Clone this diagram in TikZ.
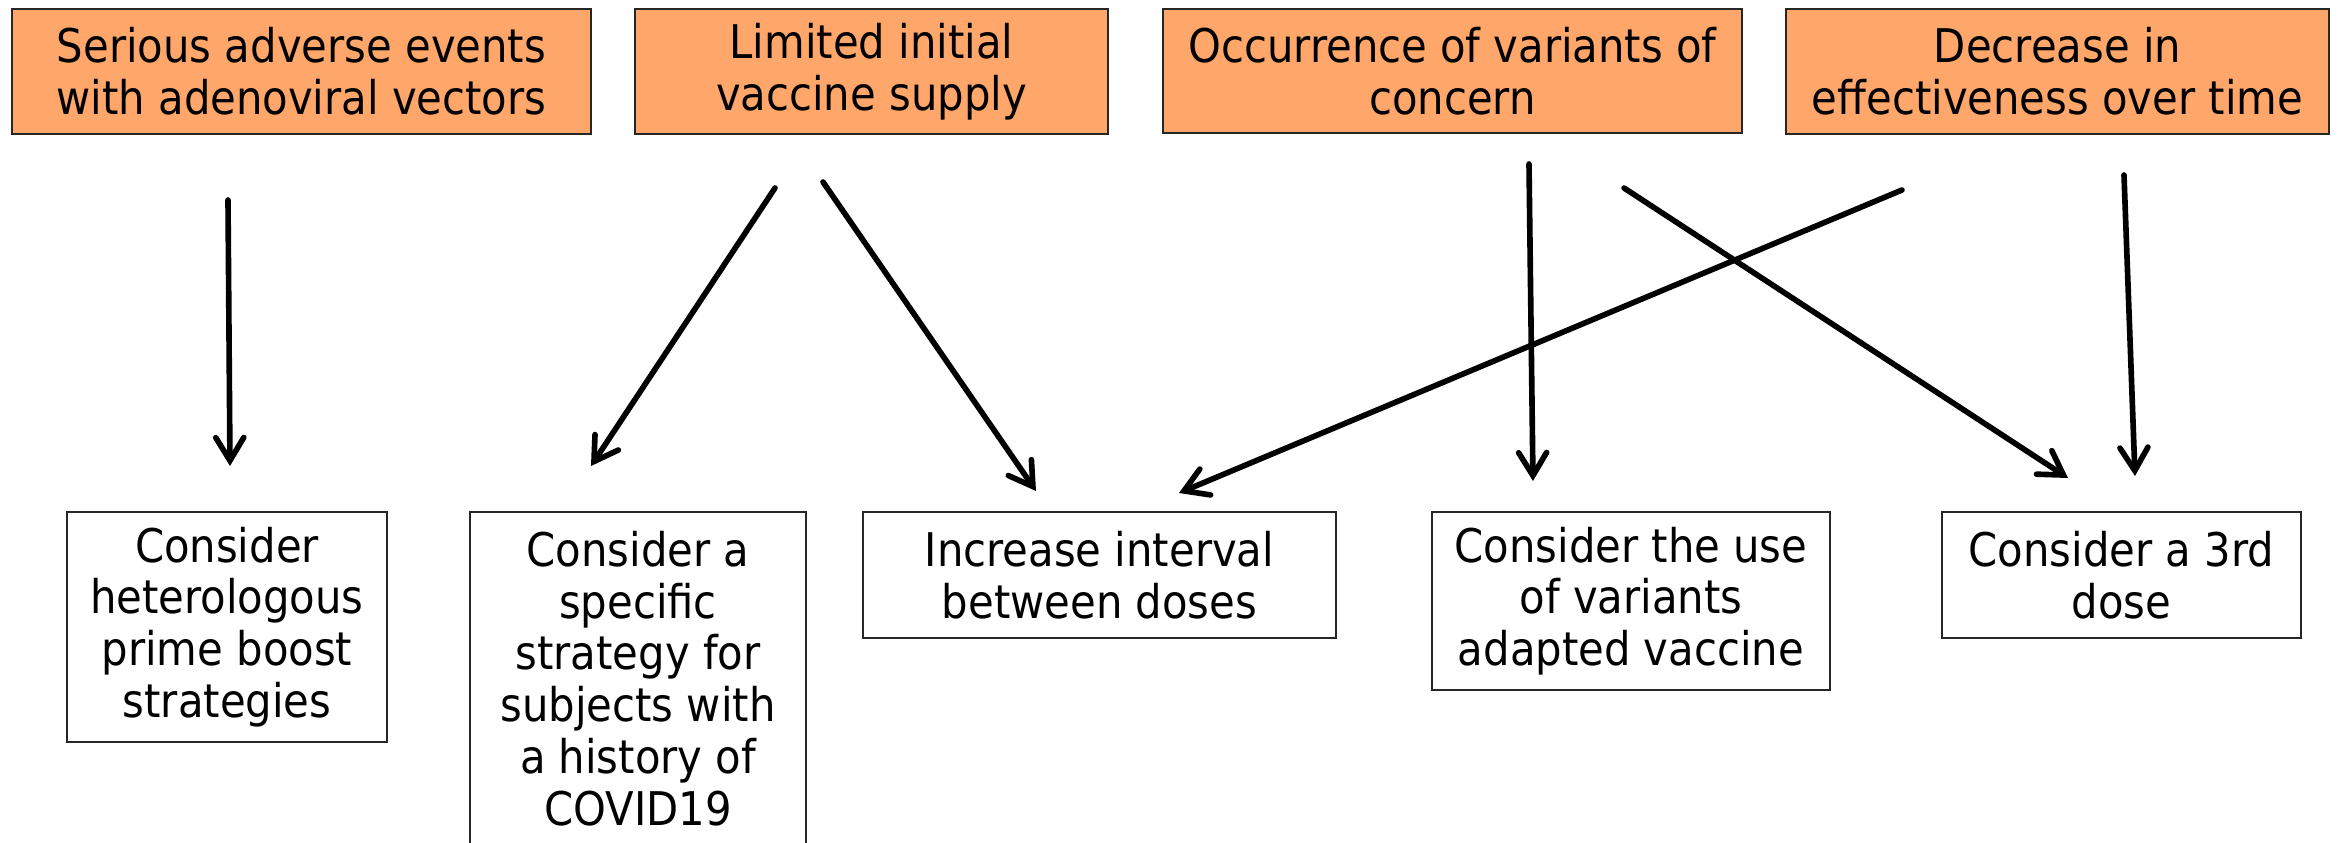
\documentclass[tikz,border=0pt]{standalone}
\usepackage{fontspec}
\setmainfont{DejaVu Sans Condensed}
\usetikzlibrary{
    arrows.meta,
    calc,
    positioning
}
\definecolor{causeorange}{RGB}{255,166,106}
\tikzset{
    every picture/.style = {
        > = {Straight Barb[length=2.3mm, width=2.8mm, line cap=round]}
    },
    cause/.style = {
        draw = black!85,
        line width = 0.6pt,
        fill = causeorange,
        align = center,
        inner sep = 0pt,
        font = \fontsize{13.2}{14.7}\selectfont
    },
    measure/.style = {
        draw = black!85,
        line width = 0.6pt,
        fill = white,
        align = center,
        inner sep = 0pt,
        font = \fontsize{13.2}{14.7}\selectfont
    },
    link/.style = {
        ->,
        line width = 1.6pt,
        line cap = round
    }
}

\begin{document}
\begin{tikzpicture}[x = 0.01cm, y = -0.01cm]
    \useasboundingbox (0,0) rectangle (2341,843);

    % causes
    \node[cause, minimum width = 5.79cm, minimum height = 1.25cm] (adverse) at (301.5,71.5)
        {Serious adverse events\\with adenoviral vectors};
    \node[cause, minimum width = 4.73cm, minimum height = 1.25cm] (supply) at (871.5,71.5)
        {Limited initial\\vaccine supply};
    \node[cause, minimum width = 5.79cm, minimum height = 1.24cm] (variants) at (1452.5,71)
        {Occurrence of variants of\\concern};
    \node[cause, minimum width = 5.43cm, minimum height = 1.25cm] (decrease) at (2057.5,71.5)
        {Decrease in\\effectiveness over time};

    % measures
    \node[measure, minimum width = 3.20cm, minimum height = 2.30cm] (hetero) at (227,627)
        {Consider\\heterologous\\prime boost\\strategies};
    \node[measure, minimum width = 3.36cm, minimum height = 3.33cm] (history) at (638,678.5)
        {Consider a\\specific\\strategy for\\subjects with\\a history of\\COVID19};
    \node[measure, minimum width = 4.73cm, minimum height = 1.26cm] (interval) at (1099.5,575)
        {Increase interval\\between doses};
    \node[measure, minimum width = 3.98cm, minimum height = 1.78cm] (adapted) at (1631,601)
        {Consider the use\\of variants\\adapted vaccine};
    \node[measure, minimum width = 3.59cm, minimum height = 1.26cm] (third) at (2121.5,575)
        {Consider a 3rd\\dose};

    % arrow ends
    \coordinate (a1) at (228,200);   \coordinate (b1) at (230,466);
    \coordinate (a2) at (775,188);   \coordinate (b2) at (591,466);
    \coordinate (a3) at (823,182);   \coordinate (b3) at (1036,491);
    \coordinate (a4) at (1902,190);  \coordinate (b4) at (1179,493);
    \coordinate (a5) at (1529,164);  \coordinate (b5) at (1533,481);
    \coordinate (a6) at (1624,188);  \coordinate (b6) at (2068,478);
    \coordinate (a7) at (2124,175);  \coordinate (b7) at (2135,476);

    \draw[link] (a1) -- (b1);
    \draw[link] (a2) -- (b2);
    \draw[link] (a3) -- (b3);
    \draw[link] (a4) -- (b4);
    \draw[link] (a5) -- (b5);
    \draw[link] (a6) -- (b6);
    \draw[link] (a7) -- (b7);
\end{tikzpicture}
\end{document}
